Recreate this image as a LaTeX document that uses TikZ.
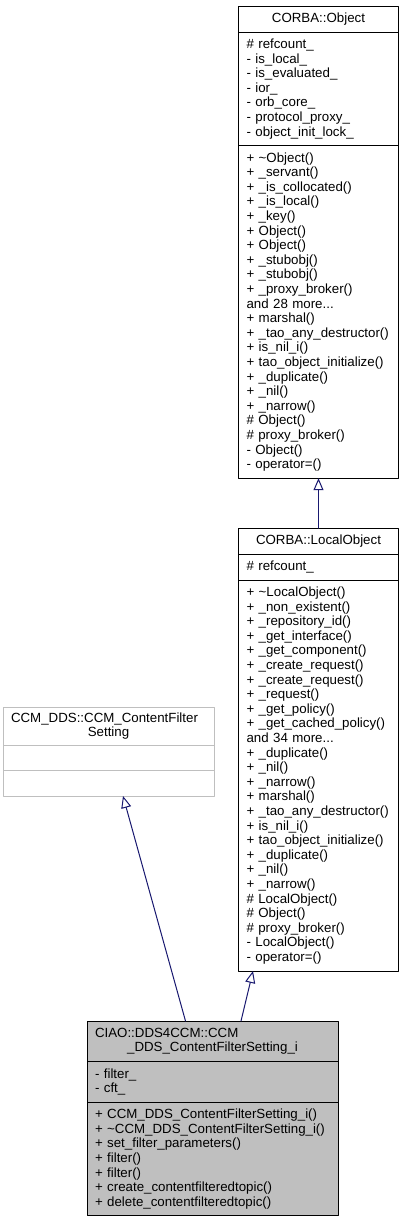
\documentclass[tikz,border=0pt]{standalone}
\usepackage{fontspec}
\setmainfont{Liberation Sans}
\usetikzlibrary{arrows.meta,positioning}

\definecolor{edgeblue}{HTML}{191970}
\definecolor{boxgray}{HTML}{BFBFBF}
\newcommand{\umlfont}{\fontsize{13.3}{14.6}\selectfont\hyphenpenalty=10000\exhyphenpenalty=10000}

\begin{document}
\begin{tikzpicture}[x=1pt,y=1pt,>={Triangle[open,length=12pt,width=10pt]},line cap=round,line join=round,
  clspart/.style={draw,rectangle,outer sep=0pt,inner xsep=8pt,inner ysep=0pt,line width=1pt,font=\umlfont,text width=#1},
  clshead/.style={clspart=#1,align=center},
  clsbody/.style={clspart=#1,align=left},
  inh/.style={->,draw=edgeblue,line width=1pt}]
  \fill[white] (0,0) rectangle (404,-1221);
  \useasboundingbox (0,0) rectangle (404,-1221);

  \node[clshead=144pt,minimum height=26pt,anchor=north west] (objTitle) at (238.5,-6) {CORBA::Object};
  \node[clsbody=144pt,minimum height=113.6pt,below=0pt of objTitle] (objAttr)
    {\# refcount\_\\- is\_local\_\\- is\_evaluated\_\\- ior\_\\- orb\_core\_\\- protocol\_proxy\_\\- object\_init\_lock\_};
  \node[clsbody=144pt,minimum height=332.6pt,below=0pt of objAttr] (objOps)
    {+ \textasciitilde Object()\\+ \_servant()\\+ \_is\_collocated()\\+ \_is\_local()\\+ \_key()\\+ Object()\\+ Object()\\+ \_stubobj()\\+ \_stubobj()\\+ \_proxy\_broker()\\and 28 more...\\+ marshal()\\+ \_tao\_any\_destructor()\\+ is\_nil\_i()\\+ tao\_object\_initialize()\\+ \_duplicate()\\+ \_nil()\\+ \_narrow()\\\# Object()\\\# proxy\_broker()\\- Object()\\- operator=()};

  \node[clshead=144pt,minimum height=26pt,anchor=north west] (locTitle) at (238.5,-528) {CORBA::LocalObject};
  \node[clsbody=144pt,minimum height=26pt,below=0pt of locTitle] (locAttr) {\# refcount\_};
  \node[clsbody=144pt,minimum height=391pt,below=0pt of locAttr] (locOps)
    {+ \textasciitilde LocalObject()\\+ \_non\_existent()\\+ \_repository\_id()\\+ \_get\_interface()\\+ \_get\_component()\\+ \_create\_request()\\+ \_create\_request()\\+ \_request()\\+ \_get\_policy()\\+ \_get\_cached\_policy()\\and 34 more...\\+ \_duplicate()\\+ \_nil()\\+ \_narrow()\\+ marshal()\\+ \_tao\_any\_destructor()\\+ is\_nil\_i()\\+ tao\_object\_initialize()\\+ \_duplicate()\\+ \_nil()\\+ \_narrow()\\\# LocalObject()\\\# Object()\\\# proxy\_broker()\\- LocalObject()\\- operator=()};

  \node[clshead=195pt,draw=boxgray,minimum height=38pt,anchor=north west] (cfsTitle) at (3,-707)
    {\makebox[\linewidth][l]{CCM\_DDS::CCM\_ContentFilter}\\Setting};
  \node[clsbody=195pt,draw=boxgray,minimum height=25.5pt,below=0pt of cfsTitle] (cfsAttr) {};
  \node[clsbody=195pt,draw=boxgray,minimum height=25.5pt,below=0pt of cfsAttr] (cfsOps) {};

  \node[clshead=235pt,fill=boxgray,minimum height=40.6pt,anchor=north west] (implTitle) at (87,-1021)
    {\makebox[\linewidth][l]{CIAO::DDS4CCM::CCM}\\\_DDS\_ContentFilterSetting\_i};
  \node[clsbody=235pt,fill=boxgray,minimum height=40.6pt,below=0pt of implTitle] (implAttr) {- filter\_\\- cft\_};
  \node[clsbody=235pt,fill=boxgray,minimum height=113.6pt,below=0pt of implAttr] (implOps)
    {+ CCM\_DDS\_ContentFilterSetting\_i()\\+ \textasciitilde CCM\_DDS\_ContentFilterSetting\_i()\\+ set\_filter\_parameters()\\+ filter()\\+ filter()\\+ create\_contentfilteredtopic()\\+ delete\_contentfilteredtopic()};

  \draw[inh] (locTitle.north) -- (objOps.south);
  \draw[inh] ([xshift=154pt]implTitle.north west) -- ([xshift=14.5pt]locOps.south west);
  \draw[inh] ([xshift=98.5pt]implTitle.north west) -- ([xshift=120pt]cfsOps.south west);
\end{tikzpicture}
\end{document}
